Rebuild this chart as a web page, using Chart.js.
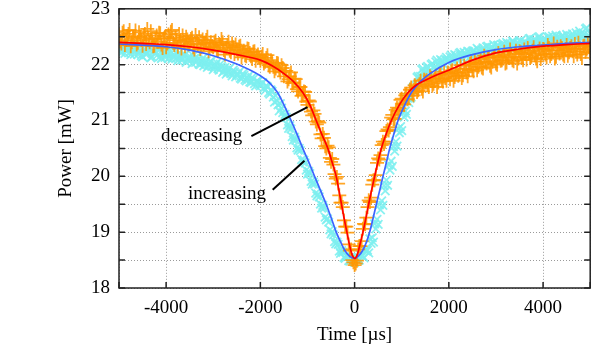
<!DOCTYPE html>
<html>
<head>
<meta charset="utf-8">
<script src="https://cdn.jsdelivr.net/npm/chart.js@4"></script>
<style>
  html, body { margin: 0; padding: 0; background: #fff; }
  #wrap { width: 599px; height: 348px; }
</style>
</head>
<body>
<div id="wrap"><canvas id="chart" width="599" height="348"></canvas></div>
<script>
// sample times [us], shared by both scans
const timeUs = [
  -5000,-4950,-4900,-4850,-4800,-4750,-4700,-4650,-4600,-4550,
  -4500,-4450,-4400,-4350,-4300,-4250,-4200,-4150,-4100,-4050,
  -4000,-3950,-3900,-3850,-3800,-3750,-3700,-3650,-3600,-3550,
  -3500,-3450,-3400,-3350,-3300,-3250,-3200,-3150,-3100,-3050,
  -3000,-2950,-2900,-2850,-2800,-2750,-2700,-2650,-2600,-2550,
  -2500,-2450,-2400,-2350,-2300,-2250,-2200,-2150,-2100,-2050,
  -2000,-1950,-1900,-1850,-1800,-1750,-1700,-1650,-1600,-1550,
  -1500,-1450,-1400,-1350,-1300,-1250,-1200,-1150,-1100,-1050,
  -1000,-950,-900,-850,-800,-750,-700,-650,-600,-550,
  -500,-450,-400,-350,-300,-250,-200,-150,-100,-50,
  0,
  50,100,150,200,250,300,350,400,450,500,
  550,600,650,700,750,800,850,900,950,1000,
  1050,1100,1150,1200,1250,1300,1350,1400,1450,1500,
  1550,1600,1650,1700,1750,1800,1850,1900,1950,2000,
  2050,2100,2150,2200,2250,2300,2350,2400,2450,2500,
  2550,2600,2650,2700,2750,2800,2850,2900,2950,3000,
  3050,3100,3150,3200,3250,3300,3350,3400,3450,3500,
  3550,3600,3650,3700,3750,3800,3850,3900,3950,4000,
  4050,4100,4150,4200,4250,4300,4350,4400,4450,4500,
  4550,4600,4650,4700,4750,4800,4850,4900,4950,5000
];

// measured power [mW], decreasing scan (orange +)
const decreasingPower = [
  22.53,22.38,22.60,22.44,22.55,22.33,22.49,22.61,22.39,22.50,
  22.34,22.55,22.64,22.40,22.46,22.34,22.52,22.57,22.36,22.47,
  22.31,22.54,22.59,22.39,22.48,22.32,22.43,22.52,22.33,22.45,
  22.38,22.48,22.27,22.42,22.49,22.31,22.37,22.44,22.24,22.40,
  22.31,22.43,22.24,22.35,22.40,22.18,22.34,22.25,22.38,22.19,
  22.27,22.32,22.13,22.25,22.15,22.28,22.15,22.23,22.07,22.18,
  22.07,22.19,22.05,22.17,21.96,22.05,21.88,22.03,21.91,21.99,
  21.79,21.89,21.74,21.86,21.68,21.74,21.52,21.60,21.46,21.51,
  21.28,21.34,21.09,21.12,20.93,20.96,20.68,20.69,20.50,20.52,
  20.26,20.21,19.96,19.87,19.53,19.45,19.10,18.99,18.67,18.50,
  18.41,
  18.49,18.75,18.84,19.15,19.26,19.57,19.62,19.93,20.02,20.32,
  20.38,20.62,20.62,20.84,20.88,21.10,21.03,21.23,21.22,21.39,
  21.29,21.48,21.44,21.59,21.45,21.61,21.54,21.71,21.52,21.70,
  21.64,21.79,21.62,21.75,21.60,21.82,21.73,21.87,21.71,21.84,
  21.88,21.71,21.86,21.80,21.99,21.81,21.93,21.79,22.01,21.92,
  22.07,21.90,22.04,21.95,22.16,22.02,22.13,21.95,22.13,22.02,
  22.21,22.07,22.17,22.02,22.14,22.27,22.08,22.20,22.02,22.24,
  22.14,22.27,22.09,22.21,22.14,22.31,22.11,22.24,22.10,22.28,
  22.18,22.35,22.15,22.25,22.11,22.32,22.20,22.30,22.15,22.35,
  22.22,22.33,22.15,22.28,22.39,22.19,22.33,22.23,22.36,22.21
];

// measured power [mW], increasing scan (cyan x)
const increasingPower = [
  22.31,22.21,22.34,22.24,22.30,22.18,22.26,22.31,22.18,22.26,
  22.14,22.28,22.20,22.29,22.14,22.23,22.16,22.26,22.11,22.19,
  22.23,22.11,22.20,22.13,22.22,22.07,22.15,22.09,22.18,22.09,
  22.15,22.02,22.11,22.14,22.01,22.07,21.98,22.07,21.98,22.06,
  21.91,22.00,21.93,22.01,21.86,21.95,21.86,21.94,21.80,21.87,
  21.81,21.87,21.74,21.81,21.71,21.80,21.68,21.74,21.62,21.70,
  21.62,21.68,21.54,21.60,21.47,21.52,21.33,21.35,21.17,21.22,
  21.06,21.06,20.86,20.85,20.65,20.65,20.47,20.46,20.26,20.24,
  20.04,20.05,19.86,19.86,19.65,19.63,19.43,19.43,19.22,19.18,
  18.97,18.95,18.79,18.78,18.62,18.64,18.53,18.57,18.48,18.54,
  18.46,
  18.54,18.50,18.58,18.54,18.66,18.63,18.80,18.82,19.06,19.14,
  19.40,19.48,19.74,19.84,20.11,20.18,20.45,20.54,20.78,20.82,
  21.06,21.11,21.32,21.42,21.60,21.63,21.79,21.79,21.93,21.85,
  21.97,21.89,22.02,21.96,22.08,21.98,22.07,22.00,22.13,22.07,
  22.17,22.07,22.16,22.10,22.22,22.10,22.19,22.24,22.14,22.24,
  22.18,22.29,22.17,22.27,22.21,22.32,22.22,22.30,22.36,22.24,
  22.35,22.28,22.38,22.28,22.37,22.30,22.42,22.30,22.38,22.42,
  22.33,22.41,22.35,22.46,22.34,22.45,22.39,22.49,22.38,22.45,
  22.38,22.49,22.41,22.51,22.41,22.49,22.41,22.51,22.45,22.54,
  22.43,22.51,22.45,22.57,22.44,22.54,22.48,22.64,22.47,22.56
];

// in-between samples (half a step later)
const timeUsMid = [
  -4975,-4925,-4875,-4825,-4775,-4725,-4675,-4625,-4575,-4525,
  -4475,-4425,-4375,-4325,-4275,-4225,-4175,-4125,-4075,-4025,
  -3975,-3925,-3875,-3825,-3775,-3725,-3675,-3625,-3575,-3525,
  -3475,-3425,-3375,-3325,-3275,-3225,-3175,-3125,-3075,-3025,
  -2975,-2925,-2875,-2825,-2775,-2725,-2675,-2625,-2575,-2525,
  -2475,-2425,-2375,-2325,-2275,-2225,-2175,-2125,-2075,-2025,
  -1975,-1925,-1875,-1825,-1775,-1725,-1675,-1625,-1575,-1525,
  -1475,-1425,-1375,-1325,-1275,-1225,-1175,-1125,-1075,-1025,
  -975,-925,-875,-825,-775,-725,-675,-625,-575,-525,
  -475,-425,-375,-325,-275,-225,-175,-125,-75,-25,
  25,75,125,175,225,275,325,375,425,475,
  525,575,625,675,725,775,825,875,925,975,
  1025,1075,1125,1175,1225,1275,1325,1375,1425,1475,
  1525,1575,1625,1675,1725,1775,1825,1875,1925,1975,
  2025,2075,2125,2175,2225,2275,2325,2375,2425,2475,
  2525,2575,2625,2675,2725,2775,2825,2875,2925,2975,
  3025,3075,3125,3175,3225,3275,3325,3375,3425,3475,
  3525,3575,3625,3675,3725,3775,3825,3875,3925,3975,
  4025,4075,4125,4175,4225,4275,4325,4375,4425,4475,
  4525,4575,4625,4675,4725,4775,4825,4875,4925,4975
];
const decreasingPowerMid = [
  22.42,22.57,22.35,22.51,22.62,22.40,22.47,22.36,22.58,22.44,
  22.52,22.37,22.48,22.60,22.33,22.45,22.41,22.56,22.30,22.50,
  22.38,22.47,22.62,22.35,22.44,22.55,22.29,22.41,22.50,22.36,
  22.46,22.31,22.53,22.36,22.28,22.45,22.39,22.50,22.30,22.33,
  22.40,22.27,22.37,22.46,22.26,22.30,22.41,22.22,22.31,22.36,
  22.20,22.34,22.22,22.17,22.29,22.21,22.10,22.24,22.16,22.12,
  22.14,22.02,22.12,21.99,22.08,21.96,21.93,22.02,21.86,21.94,
  21.89,21.70,21.79,21.67,21.75,21.56,21.60,21.44,21.52,21.34,
  21.36,21.16,21.18,20.98,20.99,20.75,20.76,20.54,20.55,20.33,
  20.31,20.04,19.99,19.66,19.53,19.21,19.10,18.78,18.69,18.46,
  18.44,18.69,18.75,19.06,19.14,19.45,19.54,19.85,19.93,20.24,
  20.30,20.56,20.58,20.81,20.82,21.05,21.02,21.19,21.17,21.37,
  21.30,21.45,21.38,21.55,21.48,21.63,21.51,21.65,21.57,21.73,
  21.72,21.60,21.76,21.66,21.80,21.68,21.84,21.70,21.76,21.86,
  21.74,21.90,21.78,21.93,21.84,21.76,21.98,21.86,21.90,22.04,
  21.88,22.02,21.96,22.10,21.93,22.06,22.12,21.98,22.05,22.16,
  22.00,22.15,22.08,22.23,22.04,22.12,22.19,22.06,22.25,22.11,
  22.22,22.08,22.19,22.30,22.12,22.25,22.17,22.06,22.29,22.20,
  22.27,22.13,22.30,22.19,22.38,22.14,22.26,22.33,22.18,22.28,
  22.16,22.30,22.24,22.37,22.18,22.29,22.12,22.34,22.27,22.31
];
const increasingPowerMid = [
  22.24,22.33,22.20,22.28,22.22,22.35,22.19,22.27,22.23,22.16,
  22.25,22.18,22.27,22.12,22.24,22.20,22.29,22.15,22.22,22.13,
  22.19,22.26,22.10,22.17,22.12,22.21,22.08,22.16,22.04,22.13,
  22.08,22.16,22.04,22.09,22.00,22.11,22.03,21.95,22.05,21.97,
  21.96,22.03,21.90,21.97,21.89,21.83,21.92,21.84,21.90,21.78,
  21.84,21.76,21.84,21.73,21.77,21.69,21.77,21.66,21.71,21.64,
  21.66,21.58,21.62,21.50,21.55,21.42,21.44,21.28,21.30,21.14,
  21.11,20.92,20.91,20.71,20.70,20.51,20.50,20.30,20.29,20.11,
  20.09,19.91,19.90,19.70,19.68,19.50,19.48,19.27,19.24,19.04,
  19.01,18.83,18.82,18.66,18.67,18.55,18.59,18.49,18.55,18.48,
  18.54,18.49,18.59,18.57,18.68,18.68,18.88,18.90,19.15,19.23,
  19.49,19.56,19.83,19.93,20.20,20.27,20.53,20.62,20.85,20.89,
  21.13,21.17,21.40,21.39,21.57,21.58,21.77,21.75,21.91,21.85,
  21.95,21.88,22.00,21.94,22.05,21.98,22.09,22.02,22.10,22.05,
  22.14,22.08,22.18,22.11,22.20,22.13,22.22,22.15,22.23,22.17,
  22.25,22.19,22.27,22.22,22.30,22.24,22.33,22.26,22.31,22.27,
  22.34,22.27,22.36,22.31,22.40,22.33,22.36,22.41,22.34,22.39,
  22.43,22.36,22.40,22.37,22.47,22.39,22.44,22.41,22.50,22.40,
  22.47,22.42,22.50,22.44,22.46,22.53,22.43,22.48,22.52,22.45,
  22.50,22.47,22.55,22.49,22.52,22.60,22.50,22.55,22.66,22.52
];

// fitted curves (red = decreasing, blue = increasing)
const fitDecT = [-5000,-4500,-4000,-3500,-3000,-2500,-2000,-1750,-1500,-1300,-1100,-950,-815,-700,-568,-480,-390,-300,-230,-163,-100,-45,0,
  45,100,177,240,298,425,567,670,780,950,1135,1300,1500,1750,2000,2500,3000,3500,4000,4500,5000];
const fitDecP = [22.40,22.38,22.36,22.32,22.26,22.18,22.08,21.98,21.84,21.70,21.50,21.28,21.00,20.76,20.50,20.26,20.00,19.60,19.28,19.00,18.74,18.58,18.53,
  18.57,18.73,19.00,19.25,19.50,20.00,20.50,20.76,21.00,21.28,21.50,21.63,21.72,21.82,21.90,22.08,22.21,22.28,22.33,22.36,22.38];
const fitIncT = [-5000,-4500,-4000,-3500,-3000,-2500,-2000,-1800,-1635,-1500,-1348,-1220,-1100,-970,-850,-720,-603,-490,-390,-300,-213,-110,0,
  90,177,250,319,390,461,530,603,675,745,830,922,1060,1206,1400,1600,2000,2500,3000,3500,4000,4500,5000];
const fitIncP = [22.37,22.35,22.32,22.26,22.16,22.01,21.80,21.67,21.50,21.28,21.00,20.75,20.50,20.25,20.00,19.74,19.50,19.24,19.00,18.83,18.68,18.57,18.53,
  18.58,18.68,18.82,19.00,19.24,19.50,19.74,20.00,20.25,20.50,20.75,21.00,21.27,21.50,21.70,21.84,22.04,22.18,22.27,22.32,22.35,22.38,22.40];

const xTickValues = [-5000, -4000, -2000, 0, 2000, 4000, 5000];
const xTickLabels = ['', '-4000', '-2000', '0', '2000', '4000', ''];

// curve labels with leader lines, in data units
const notes = [
  { text: 'decreasing', at: [-2383, 20.63], from: [-2191, 20.72], to: [-1000, 21.24] },
  { text: 'increasing', at: [-1879, 19.60], from: [-1738, 19.76], to: [-1064, 20.28] }
];

const serif = '"Liberation Serif", "Times New Roman", serif';
Chart.defaults.font.family = serif;
Chart.defaults.font.size = 19;
Chart.defaults.color = '#000';

const pts = (xs, ys) => xs.map((x, i) => ({ x: x, y: ys[i] }));

// gnuplot-style frame, inward ticks and curve labels
const framePlugin = {
  id: 'frame',
  afterDatasetsDraw(chart) {
    const { ctx, chartArea: a, scales: { x, y } } = chart;
    ctx.save();
    ctx.strokeStyle = '#222';
    ctx.lineWidth = 1.5;
    ctx.beginPath();
    y.ticks.forEach(t => {
      const py = y.getPixelForValue(t.value);
      ctx.moveTo(a.left, py); ctx.lineTo(a.left + 6, py);
      ctx.moveTo(a.right, py); ctx.lineTo(a.right - 6, py);
    });
    x.ticks.forEach(t => {
      const px = x.getPixelForValue(t.value);
      ctx.moveTo(px, a.bottom); ctx.lineTo(px, a.bottom - 6);
      ctx.moveTo(px, a.top); ctx.lineTo(px, a.top + 6);
    });
    ctx.stroke();
    ctx.strokeRect(a.left, a.top, a.right - a.left, a.bottom - a.top);

    ctx.lineWidth = 2;
    ctx.strokeStyle = '#000';
    ctx.fillStyle = '#000';
    ctx.font = '19px ' + serif;
    ctx.textAlign = 'right';
    ctx.textBaseline = 'alphabetic';
    notes.forEach(n => {
      ctx.fillText(n.text, x.getPixelForValue(n.at[0]), y.getPixelForValue(n.at[1]));
      ctx.beginPath();
      ctx.moveTo(x.getPixelForValue(n.from[0]), y.getPixelForValue(n.from[1]));
      ctx.lineTo(x.getPixelForValue(n.to[0]), y.getPixelForValue(n.to[1]));
      ctx.stroke();
    });
    ctx.restore();
  }
};

new Chart(document.getElementById('chart'), {
  type: 'scatter',
  data: {
    datasets: [
      {
        label: 'decreasing fit',
        data: pts(fitDecT, fitDecP),
        showLine: true,
        borderColor: '#ff0000',
        borderWidth: 1.7,
        pointRadius: 0,
        cubicInterpolationMode: 'monotone',
        clip: 0,
        order: 0
      },
      {
        label: 'increasing fit',
        data: pts(fitIncT, fitIncP),
        showLine: true,
        borderColor: '#3d64ff',
        borderWidth: 1.7,
        pointRadius: 0,
        cubicInterpolationMode: 'monotone',
        clip: 0,
        order: 1
      },
      {
        label: 'decreasing',
        data: pts(timeUs, decreasingPower).concat(pts(timeUsMid, decreasingPowerMid)),
        pointStyle: 'cross',
        pointRadius: 7,
        borderWidth: 1.8,
        borderColor: 'rgba(255,150,0,0.85)',
        backgroundColor: 'rgba(255,150,0,0.85)',
        clip: 0,
        order: 2
      },
      {
        label: 'increasing',
        data: pts(timeUs, increasingPower).concat(pts(timeUsMid, increasingPowerMid)),
        pointStyle: 'crossRot',
        pointRadius: 6,
        borderWidth: 1.8,
        borderColor: 'rgba(125,240,240,0.9)',
        backgroundColor: 'rgba(125,240,240,0.9)',
        clip: 0,
        order: 3
      }
    ]
  },
  options: {
    responsive: false,
    animation: false,
    devicePixelRatio: 1,
    layout: { padding: { top: 7, right: 8, left: 0, bottom: 0 } },
    plugins: { legend: { display: false }, tooltip: { enabled: false } },
    scales: {
      x: {
        type: 'linear',
        min: -5000,
        max: 5000,
        afterBuildTicks: s => { s.ticks = xTickValues.map(v => ({ value: v })); },
        afterFit: s => { s.height = 60; s.paddingLeft = 0; s.paddingRight = 0; },
        ticks: {
          padding: 9,
          maxRotation: 0,
          autoSkip: false,
          callback: (v, i) => xTickLabels[i]
        },
        grid: { color: '#9a9a9a', lineWidth: 1, drawTicks: false },
        border: { display: false, dash: [1, 2] },
        title: { display: true, text: 'Time [\u00b5s]', padding: { top: 0, bottom: 2 } }
      },
      y: {
        min: 18,
        max: 23,
        afterFit: s => { s.width = 119; s.paddingTop = 0; s.paddingBottom = 0; },
        ticks: {
          stepSize: 0.5,
          padding: 9,
          callback: v => (Number.isInteger(v) ? String(v) : '')
        },
        grid: { color: '#9a9a9a', lineWidth: 1, drawTicks: false },
        border: { display: false, dash: [1, 2] },
        title: { display: true, text: 'Power [mW]', padding: { top: 55, bottom: 0 } }
      }
    }
  },
  plugins: [framePlugin]
});
</script>
</body>
</html>
